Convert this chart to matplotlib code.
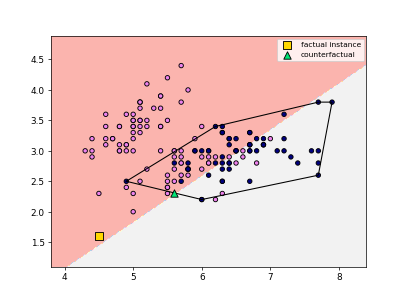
import matplotlib.pyplot as plt
import numpy as np

# iris sepal length / width
setosa_x = [5.1, 4.9, 4.7, 4.6, 5.0, 5.4, 4.6, 5.0, 4.4, 4.9, 5.4, 4.8, 4.8, 4.3, 5.8, 5.7, 5.4, 5.1, 5.7, 5.1,
            5.4, 5.1, 4.6, 5.1, 4.8, 5.0, 5.0, 5.2, 5.2, 4.7, 4.8, 5.4, 5.2, 5.5, 4.9, 5.0, 5.5, 4.9, 4.4, 5.1,
            5.0, 4.5, 4.4, 5.0, 5.1, 4.8, 5.1, 4.6, 5.3, 5.0]
setosa_y = [3.5, 3.0, 3.2, 3.1, 3.6, 3.9, 3.4, 3.4, 2.9, 3.1, 3.7, 3.4, 3.0, 3.0, 4.0, 4.4, 3.9, 3.5, 3.8, 3.8,
            3.4, 3.7, 3.6, 3.3, 3.4, 3.0, 3.4, 3.5, 3.4, 3.2, 3.1, 3.4, 4.1, 4.2, 3.1, 3.2, 3.5, 3.6, 3.0, 3.4,
            3.5, 2.3, 3.2, 3.5, 3.8, 3.0, 3.8, 3.2, 3.7, 3.3]
versicolor_x = [7.0, 6.4, 6.9, 5.5, 6.5, 5.7, 6.3, 4.9, 6.6, 5.2, 5.0, 5.9, 6.0, 6.1, 5.6, 6.7, 5.6, 5.8, 6.2, 5.6,
                5.9, 6.1, 6.3, 6.1, 6.4, 6.6, 6.8, 6.7, 6.0, 5.7, 5.5, 5.5, 5.8, 6.0, 5.4, 6.0, 6.7, 6.3, 5.6, 5.5,
                5.5, 6.1, 5.8, 5.0, 5.6, 5.7, 5.7, 6.2, 5.1, 5.7]
versicolor_y = [3.2, 3.2, 3.1, 2.3, 2.8, 2.8, 3.3, 2.4, 2.9, 2.7, 2.0, 3.0, 2.2, 2.9, 2.9, 3.1, 3.0, 2.7, 2.2, 2.5,
                3.2, 2.8, 2.5, 2.8, 2.9, 3.0, 2.8, 3.0, 2.9, 2.6, 2.4, 2.4, 2.7, 2.7, 3.0, 3.4, 3.1, 2.3, 3.0, 2.5,
                2.6, 3.0, 2.6, 2.3, 2.7, 3.0, 2.9, 2.9, 2.5, 2.8]
virginica_x = [6.3, 5.8, 7.1, 6.3, 6.5, 7.6, 4.9, 7.3, 6.7, 7.2, 6.5, 6.4, 6.8, 5.7, 5.8, 6.4, 6.5, 7.7, 7.7, 6.0,
               6.9, 5.6, 7.7, 6.3, 6.7, 7.2, 6.2, 6.1, 6.4, 7.2, 7.4, 7.9, 6.4, 6.3, 6.1, 7.7, 6.3, 6.4, 6.0, 6.9,
               6.7, 6.9, 5.8, 6.8, 6.7, 6.7, 6.3, 6.5, 6.2, 5.9]
virginica_y = [3.3, 2.7, 3.0, 2.9, 3.0, 3.0, 2.5, 2.9, 2.5, 3.6, 3.2, 2.7, 3.0, 2.5, 2.8, 3.2, 3.0, 3.8, 2.6, 2.2,
               3.2, 2.8, 2.8, 2.7, 3.3, 3.2, 2.8, 3.0, 2.8, 3.0, 2.8, 3.8, 2.8, 2.8, 2.6, 3.0, 3.4, 3.1, 3.0, 3.1,
               3.1, 3.1, 2.7, 3.2, 3.3, 3.0, 2.5, 3.0, 3.4, 3.0]

factual = (4.5, 1.6)
counterfactual = (5.6, 2.3)

# linear decision boundary: y = b0 + b1 * x
b0, b1 = 1.1 - 0.76 * 4.06, 0.76

X = np.array([setosa_x + versicolor_x + virginica_x, setosa_y + versicolor_y + virginica_y]).T
labels = np.array([0] * 100 + [1] * 50)


def convex_hull(points):
    pts = sorted(set(map(tuple, points)))

    def cross(o, a, b):
        return (a[0] - o[0]) * (b[1] - o[1]) - (a[1] - o[1]) * (b[0] - o[0])

    lower = []
    for p in pts:
        while len(lower) >= 2 and cross(lower[-2], lower[-1], p) <= 0:
            lower.pop()
        lower.append(p)
    upper = []
    for p in reversed(pts):
        while len(upper) >= 2 and cross(upper[-2], upper[-1], p) <= 0:
            upper.pop()
        upper.append(p)
    return np.array(lower[:-1] + upper[:-1])


x_min, x_max = X[:, 0].min() - 0.5, X[:, 0].max() + 0.5
y_min, y_max = min(X[:, 1].min(), factual[1]) - 0.5, X[:, 1].max() + 0.5
xx, yy = np.meshgrid(np.arange(x_min, x_max, 0.02), np.arange(y_min, y_max, 0.02))
Z = (yy < b0 + b1 * xx).astype(int)

fig, ax = plt.subplots(figsize=(6.4, 4.8), dpi=63.6)
fig.subplots_adjust(left=0.125, right=0.9, top=0.88, bottom=0.126)

ax.contourf(xx, yy, Z, cmap="Pastel1")

ax.scatter(X[:, 0], X[:, 1], c=np.where(labels == 1, "navy", "violet"), edgecolors="k", s=25)

hull = convex_hull(X[labels == 1])
hull = np.vstack([hull, hull[:1]])
ax.plot(hull[:, 0], hull[:, 1], color="k", lw=1.2)

ax.scatter(*factual, marker="s", c="gold", edgecolors="k", s=70, label="factual instance", zorder=3)
ax.scatter(*counterfactual, marker="^", c="#00e676", edgecolors="k", s=70, label="counterfactual", zorder=3)

ax.set_xlim(xx.min(), xx.max())
ax.set_ylim(yy.min(), yy.max())
ax.legend(loc="upper right", fontsize=8.5, borderaxespad=0.3)

fig.savefig("out.png")
